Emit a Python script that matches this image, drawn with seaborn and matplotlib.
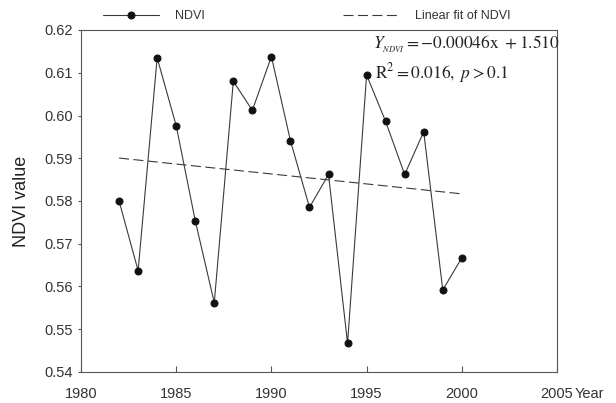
import numpy as np
import pandas as pd
import matplotlib
matplotlib.use("Agg")
import matplotlib.pyplot as plt
import seaborn as sns

# данные
years = [1982, 1983, 1984, 1985, 1986, 1987, 1988, 1989, 1990, 1991,
         1992, 1993, 1994, 1995, 1996, 1997, 1998, 1999, 2000]
ndvi = [0.5800, 0.5637, 0.6135, 0.5976, 0.5754, 0.5562, 0.6080, 0.6012, 0.6138, 0.5941,
        0.5785, 0.5862, 0.5467, 0.6095, 0.5986, 0.5862, 0.5962, 0.5592, 0.5667]
xticks = [1980, 1985, 1990, 1995, 2000, 2005]
yticks = [0.54, 0.55, 0.56, 0.57, 0.58, 0.59, 0.60, 0.61, 0.62]
eq_text = r"$Y_{_{NDVI}} = -0.00046\mathrm{x}\ + 1.510$"
r2_text = r"$\mathrm{R}^2 = 0.016,\ p > 0.1$"

sns.set_style("ticks")
plt.rcParams['font.family'] = ['Liberation Sans', 'DejaVu Sans']
plt.rcParams['mathtext.fontset'] = 'stix'

df = pd.DataFrame({'year': years, 'ndvi': ndvi})

line_col = '#3a3a3a'
axis_col = '#555555'
text_col = '#333333'

fig = plt.figure(figsize=(6.16, 4.03), dpi=100)
ax = fig.add_axes([81 / 616, 1 - 372 / 403, (557 - 81) / 616, (372 - 30) / 403])

# ряд NDVI
sns.lineplot(data=df, x='year', y='ndvi', ax=ax, color=line_col, lw=0.8,
             marker='o', markersize=5, markerfacecolor='#111111',
             markeredgecolor='#111111', label='NDVI')

# линейный тренд
sns.regplot(data=df, x='year', y='ndvi', ax=ax, scatter=False, ci=None,
            color=line_col, label='Linear fit of NDVI',
            line_kws=dict(lw=0.8, ls=(0, (9, 4))))

leg = ax.get_legend()
if leg is not None:
    leg.remove()

ax.set_xlim(1980, 2005)
ax.set_ylim(0.54, 0.62)
ax.set_xticks(xticks)
ax.set_yticks(yticks)
ax.set_yticklabels([f"{v:.2f}" for v in yticks])
ax.set_xlabel('')
ax.set_ylabel('NDVI value', fontsize=13, color='#222222', labelpad=10)

for s in ax.spines.values():
    s.set_visible(True)
    s.set_color(axis_col)
    s.set_linewidth(0.8)

ax.tick_params(axis='x', direction='in', length=4, width=0.8, color=axis_col,
               labelsize=10.5, labelcolor=text_col, pad=11)
ax.tick_params(axis='y', direction='out', length=2.5, width=0.8, color=axis_col,
               labelsize=10.5, labelcolor=text_col, pad=3.5)

# подпись оси X справа от последней метки
ax.annotate('Year', xy=(1, 0), xycoords='axes fraction', xytext=(13, -11),
            textcoords='offset points', ha='left', va='top',
            fontsize=10.5, color=text_col)

# уравнение тренда
fig.text(373 / 616, 1 - 44 / 403, eq_text, fontsize=12.5, color='#222222',
         ha='left', va='center')
fig.text(375 / 616, 1 - 73 / 403, r2_text, fontsize=12.5, color='#222222',
         ha='left', va='center')

handles, labels = ax.get_legend_handles_labels()
fig.legend(handles, labels, loc='center left', bbox_to_anchor=(103 / 616, 1 - 16 / 403),
           ncol=2, frameon=False, fontsize=9, labelcolor=text_col,
           handlelength=4.5, handletextpad=1.3, columnspacing=11,
           borderpad=0, borderaxespad=0)

fig.savefig('out.png', dpi=100)
